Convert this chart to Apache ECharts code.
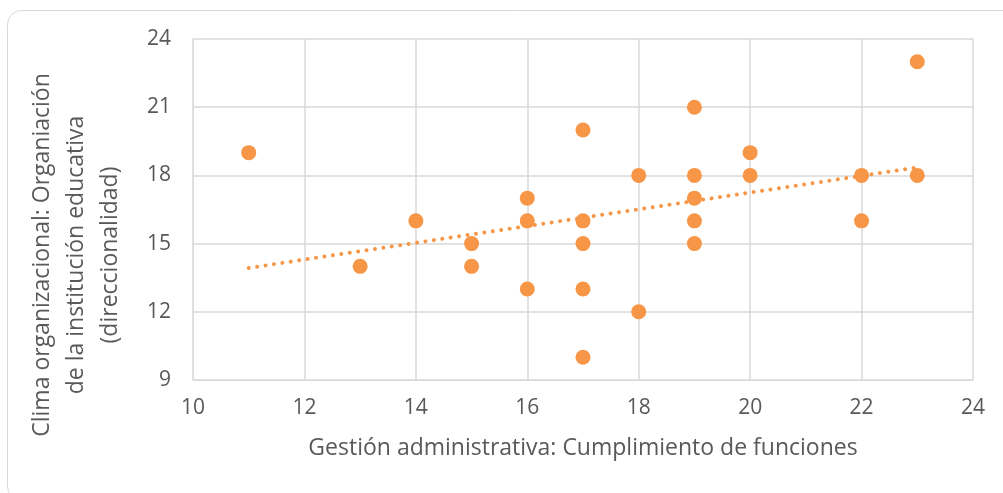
<!DOCTYPE html>
<html>
<head>
<meta charset="utf-8">
<script src="https://cdn.jsdelivr.net/npm/echarts@6/dist/echarts.min.js"></script>
<style>
  html, body { margin: 0; padding: 0; background: #fff; }
  #chart { width: 1003px; height: 493px; }
</style>
</head>
<body>
<div id="chart"></div>
<script>
// Gestión administrativa (x) vs Clima organizacional (y)
var gestion = [11, 13, 14, 15, 15, 16, 16, 16, 17, 17, 17, 17, 17, 18, 18, 19, 19, 19, 19, 19, 20, 20, 22, 22, 23, 23];
var clima   = [19, 14, 16, 15, 14, 17, 16, 13, 20, 16, 15, 13, 10, 18, 12, 21, 18, 17, 16, 15, 19, 18, 18, 16, 23, 18];

var xTitle = 'Gestión administrativa: Cumplimiento de funciones';
var yTitle = 'Clima organizacional: Organiación\nde la institución educativa\n(direccionalidad)';

var naranja = '#f79646';
var fuente = '"Open Sans", "Noto Sans", sans-serif';

var puntos = gestion.map(function (x, i) { return [x, clima[i]]; });

// linea de tendencia (minimos cuadrados)
var n = gestion.length;
var mx = gestion.reduce(function (a, b) { return a + b; }, 0) / n;
var my = clima.reduce(function (a, b) { return a + b; }, 0) / n;
var sxy = 0, sxx = 0;
for (var i = 0; i < n; i++) {
  sxy += (gestion[i] - mx) * (clima[i] - my);
  sxx += (gestion[i] - mx) * (gestion[i] - mx);
}
var pend = sxy / sxx;
var xMin = Math.min.apply(null, gestion), xMax = Math.max.apply(null, gestion);
var tendencia = [
  [xMin, my + pend * (xMin - mx)],
  [xMax, my + pend * (xMax - mx)]
];

var chart = echarts.init(document.getElementById('chart'));
chart.setOption({
  animation: false,
  grid: { left: 193, right: 30, top: 39, bottom: 113 },
  graphic: [
    {
      type: 'rect',
      shape: { x: 7.5, y: 10.5, width: 1010, height: 490, r: 14 },
      style: { fill: 'none', stroke: '#d9d9d9', lineWidth: 1 },
      silent: true
    },
    {
      type: 'text',
      x: 76, y: 255,
      rotation: Math.PI / 2,
      style: {
        text: yTitle,
        font: '23px ' + fuente,
        fill: '#595959',
        align: 'center',
        verticalAlign: 'middle',
        lineHeight: 34
      }
    }
  ],
  xAxis: {
    type: 'value',
    min: 10, max: 24, interval: 2,
    name: xTitle,
    nameLocation: 'middle',
    nameGap: 57,
    nameTextStyle: { color: '#595959', fontSize: 23, fontFamily: fuente },
    axisLine: { show: true, lineStyle: { color: '#d9d9d9', width: 1 } },
    axisTick: { show: false },
    axisLabel: { color: '#595959', fontSize: 21, fontFamily: fuente, margin: 18 },
    splitLine: { show: true, lineStyle: { color: '#d9d9d9', width: 1.5 } }
  },
  yAxis: {
    type: 'value',
    min: 9, max: 24, interval: 3,
    axisLine: { show: true, lineStyle: { color: '#d9d9d9', width: 1 } },
    axisTick: { show: false },
    axisLabel: { color: '#595959', fontSize: 21, fontFamily: fuente, margin: 22 },
    splitLine: { show: true, lineStyle: { color: '#d9d9d9', width: 1.5 } }
  },
  series: [
    {
      type: 'line',
      data: tendencia,
      showSymbol: false,
      symbol: 'none',
      lineStyle: { color: naranja, width: 4, type: [0.01, 8.5], cap: 'round' },
      z: 1
    },
    {
      type: 'scatter',
      data: puntos,
      symbolSize: 15,
      itemStyle: { color: naranja, opacity: 1 },
      z: 2
    }
  ]
});
</script>
</body>
</html>
